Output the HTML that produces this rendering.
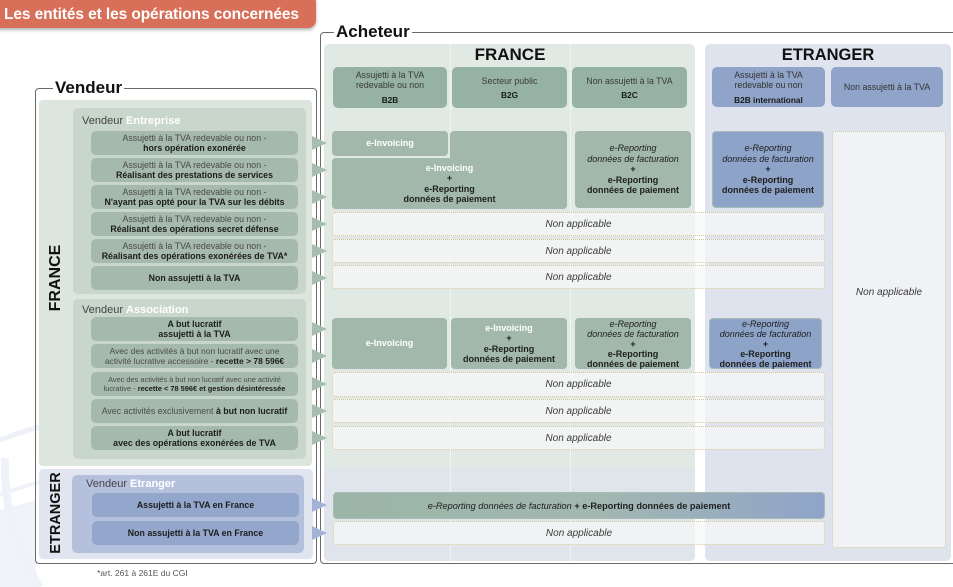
<!DOCTYPE html>
<html><head><meta charset="utf-8">
<style>
*{margin:0;padding:0;box-sizing:border-box}
html,body{width:953px;height:587px;overflow:hidden;background:#fff}
body{position:relative;font-family:"Liberation Sans",sans-serif;color:#333}
.a{position:absolute}
.c{position:absolute;display:flex;flex-direction:column;justify-content:center;align-items:center;text-align:center}
.row{border-radius:5px;background:#a5baac;font-size:8.8px;line-height:10.5px;color:#4a4a4a}
.row b{color:#1c1c1c}
.brow{border-radius:5px;background:#93a6cb;font-size:8.8px;line-height:10px;color:#1c1c1c;font-weight:bold}
.hd{border-radius:5px;background:#95b2a4;font-size:8.8px;line-height:10px;color:#3a3a3a}
.hd b{color:#1a1a1a;font-size:8.3px}
.hb{border-radius:5px;background:#8fa4c8;font-size:8.8px;line-height:10px;color:#333}
.hb b{color:#1a1a1a;font-size:8.3px}
.g{border-radius:4px;background:#a1b8ab;font-size:9px;line-height:10.4px;color:#1e1e1e}
.bl{border-radius:4px;background:#8ea3c8;border:1px solid #a9bcb6;font-size:9px;line-height:10.4px;color:#1e1e1e}
.w{color:#fff;font-weight:bold}
.na{border:1px dotted #d2c696;border-radius:3px;background:rgba(247,248,248,0.72);font-size:10px;font-style:italic;color:#3a3a3a}
.tri{position:absolute;width:0;height:0;border-top:7px solid transparent;border-bottom:7px solid transparent;border-left:15px solid #a7bdaf}
.trib{border-left-color:#a3b3d8}
.lbl{font-size:11px;color:#444}
.lbl b{color:#fff}
.dot{position:absolute;width:0;border-left:1px dotted #fff;top:44px;height:517px}
</style></head><body>

<!-- watermark -->
<svg class="a" style="left:0;top:380px" width="60" height="207">
<path d="M0,60 Q25,50 48,45" stroke="#eef2f8" stroke-width="5" fill="none"/>
<path d="M0,115 Q25,105 50,100" stroke="#eff3f9" stroke-width="4" fill="none"/>
<path d="M0,130 L36,120 L36,207 L0,207 Z" fill="#f0f3f9"/>
<path d="M5,78 Q3,150 40,207" stroke="#eff3f9" stroke-width="8" fill="none"/>
</svg>

<!-- title -->
<div class="a" style="left:-10px;top:-6px;width:326px;height:34px;border-radius:8px;background:#d86f59;box-shadow:0 2px 3px rgba(0,0,0,0.3)"></div>
<div class="a" style="left:4px;top:6px;font-size:15.5px;font-weight:bold;color:#fff;letter-spacing:-0.1px;line-height:18px">Les entités et les opérations concernées</div>

<!-- Acheteur frame -->
<div class="a" style="left:320px;top:32px;width:650px;height:532px;border:1px solid #6a6a6a;border-radius:4px"></div>
<div class="a" style="left:334px;top:22px;padding:0 2px;background:#fff;font-size:17px;font-weight:bold;color:#111;line-height:20px">Acheteur</div>

<!-- Vendeur frame -->
<div class="a" style="left:35px;top:88px;width:282px;height:476px;border:1px solid #6a6a6a;border-radius:4px"></div>
<div class="a" style="left:53px;top:78px;padding:0 2px;background:#fff;font-size:17px;font-weight:bold;color:#111;line-height:20px">Vendeur</div>

<!-- seller panels -->
<div class="a" style="left:39px;top:100px;width:273px;height:366px;background:#dce5de;border-radius:4px"></div>
<div class="a" style="left:39px;top:469px;width:274px;height:90px;background:#e0e5ef;border-radius:4px"></div>
<div class="a" style="left:73px;top:108px;width:233px;height:186px;background:#c8d6cb;border-radius:5px"></div>
<div class="a" style="left:73px;top:299px;width:233px;height:160px;background:#c8d6cb;border-radius:5px"></div>
<div class="a" style="left:72px;top:475px;width:232px;height:78px;background:#b5c1dc;border-radius:5px"></div>

<div class="a" style="left:56px;top:278px;transform:translate(-50%,-50%) rotate(-90deg);font-size:16px;font-weight:bold;color:#111;white-space:nowrap">FRANCE</div>
<div class="a" style="left:56px;top:513px;transform:translate(-50%,-50%) rotate(-90deg);font-size:14.5px;font-weight:bold;color:#111;white-space:nowrap">ETRANGER</div>

<div class="a lbl" style="left:82px;top:115px">Vendeur <b>Entreprise</b></div>
<div class="a lbl" style="left:82px;top:304px">Vendeur <b>Association</b></div>
<div class="a lbl" style="left:86px;top:478px">Vendeur <b>Etranger</b></div>

<!-- entreprise rows -->
<div class="c row" style="left:91px;top:131px;width:207px;height:24px"><span>Assujetti à la TVA redevable ou non -</span><b>hors opération exonérée</b></div>
<div class="c row" style="left:91px;top:158px;width:207px;height:24px"><span>Assujetti à la TVA redevable ou non -</span><b>Réalisant des prestations de services</b></div>
<div class="c row" style="left:91px;top:185px;width:207px;height:24px"><span>Assujetti à la TVA redevable ou non -</span><b>N'ayant pas opté pour la TVA sur les débits</b></div>
<div class="c row" style="left:91px;top:212px;width:207px;height:24px"><span>Assujetti à la TVA redevable ou non -</span><b>Réalisant des opérations secret défense</b></div>
<div class="c row" style="left:91px;top:239px;width:207px;height:24px"><span>Assujetti à la TVA redevable ou non -</span><b>Réalisant des opérations exonérées de TVA*</b></div>
<div class="c row" style="left:91px;top:266px;width:207px;height:24px"><b>Non assujetti à la TVA</b></div>

<!-- association rows -->
<div class="c row" style="left:91px;top:317px;width:207px;height:24px"><b>A but lucratif</b><b>assujetti à la TVA</b></div>
<div class="c row" style="left:91px;top:344px;width:207px;height:24px;font-size:8.5px"><span>Avec des activités à but non lucratif avec une</span><span>activité lucrative accessoire - <b>recette &gt; 78 596€</b></span></div>
<div class="c row" style="left:91px;top:372px;width:207px;height:24px;font-size:7.4px;line-height:9px"><span>Avec des activités à but non lucratif avec une activité</span><span>lucrative - <b>recette &lt; 78 596€ et gestion désintéressée</b></span></div>
<div class="c row" style="left:91px;top:399px;width:207px;height:24px"><span>Avec activités exclusivement <b>à but non lucratif</b></span></div>
<div class="c row" style="left:91px;top:426px;width:207px;height:24px"><b>A but lucratif</b><b>avec des opérations exonérées de TVA</b></div>

<!-- etranger rows -->
<div class="c brow" style="left:92px;top:493px;width:207px;height:24px">Assujetti à la TVA en France</div>
<div class="c brow" style="left:92px;top:521px;width:207px;height:24px">Non assujetti à la TVA en France</div>

<!-- buyer panels -->
<div class="a" style="left:324px;top:44px;width:371px;height:517px;background:#e0e9e3;border-radius:5px"></div>
<div class="a" style="left:324px;top:468px;width:371px;height:93px;background:#dfe5ea;border-radius:0 0 5px 5px"></div>
<div class="a" style="left:705px;top:44px;width:246px;height:517px;background:#dee3ee;border-radius:5px"></div>
<div class="dot" style="left:450px"></div>
<div class="dot" style="left:570px"></div>

<div class="a" style="left:510px;top:45px;transform:translateX(-50%);font-size:17px;font-weight:bold;color:#111;line-height:20px">FRANCE</div>
<div class="a" style="left:828px;top:45px;transform:translateX(-50%);font-size:16.5px;font-weight:bold;color:#111;line-height:20px">ETRANGER</div>

<div class="c hd" style="left:333px;top:67px;width:114px;height:41px"><span>Assujetti à la TVA</span><span>redevable ou non</span><b style="margin-top:5px">B2B</b></div>
<div class="c hd" style="left:452px;top:67px;width:115px;height:41px"><span>Secteur public</span><b style="margin-top:4px">B2G</b></div>
<div class="c hd" style="left:572px;top:67px;width:115px;height:41px"><span>Non assujetti à la TVA</span><b style="margin-top:4px">B2C</b></div>
<div class="c hb" style="left:712px;top:67px;width:113px;height:40px"><span>Assujetti à la TVA</span><span>redevable ou non</span><b style="margin-top:5px">B2B international</b></div>
<div class="c hb" style="left:831px;top:67px;width:112px;height:40px"><span>Non assujetti à la TVA</span></div>

<!-- entreprise cells -->
<div class="c g" style="left:332px;top:131px;width:116px;height:25px"><span class="w">e-Invoicing</span></div>
<div class="a g" style="left:450px;top:131px;width:117px;height:40px"></div>
<div class="c g" style="left:332px;top:158px;width:235px;height:51px;border-top-right-radius:0"><span class="w">e-Invoicing</span><b>+</b><b>e-Reporting</b><b>données de paiement</b></div>
<div class="c g" style="left:575px;top:131px;width:116px;height:77px"><i>e-Reporting</i><i>données de facturation</i><b>+</b><b>e-Reporting</b><b>données de paiement</b></div>
<div class="c bl" style="left:712px;top:131px;width:112px;height:77px"><i>e-Reporting</i><i>données de facturation</i><b>+</b><b>e-Reporting</b><b>données de paiement</b></div>

<div class="a na" style="left:832px;top:131px;width:114px;height:417px"></div>
<div class="a" style="left:889px;top:287px;transform:translateX(-50%);font-size:10px;font-style:italic;color:#3a3a3a;white-space:nowrap">Non applicable</div>

<div class="c na" style="left:332px;top:212px;width:493px;height:24px">Non applicable</div>
<div class="c na" style="left:332px;top:239px;width:493px;height:24px">Non applicable</div>
<div class="c na" style="left:332px;top:265px;width:493px;height:24px">Non applicable</div>

<!-- association cells -->
<div class="c g" style="left:332px;top:318px;width:115px;height:51px"><span class="w">e-Invoicing</span></div>
<div class="c g" style="left:451px;top:318px;width:116px;height:51px"><span class="w">e-Invoicing</span><b>+</b><b>e-Reporting</b><b>données de paiement</b></div>
<div class="c g" style="left:575px;top:318px;width:116px;height:51px;line-height:10px"><i>e-Reporting</i><i>données de facturation</i><b>+</b><b>e-Reporting</b><b>données de paiement</b></div>
<div class="c bl" style="left:709px;top:318px;width:113px;height:51px;line-height:10px"><i>e-Reporting</i><i>données de facturation</i><b>+</b><b>e-Reporting</b><b>données de paiement</b></div>

<div class="c na" style="left:332px;top:372px;width:493px;height:25px">Non applicable</div>
<div class="c na" style="left:332px;top:399px;width:493px;height:24px">Non applicable</div>
<div class="c na" style="left:332px;top:426px;width:493px;height:24px">Non applicable</div>

<!-- etranger cells -->
<div class="c" style="left:333px;top:492px;width:492px;height:27px;border-radius:4px;background:linear-gradient(to right,#9bb5a7 0%,#a2b7b0 55%,#8fa4c9 100%);font-size:9.2px;color:#1e1e1e;border:1px solid #a9bcb4"><span><i>e-Reporting données de facturation</i> <b>+ e-Reporting données de paiement</b></span></div>
<div class="c na" style="left:333px;top:521px;width:492px;height:24px">Non applicable</div>

<!-- arrows -->
<div class="tri" style="left:312px;top:136px"></div>
<div class="tri" style="left:312px;top:163px"></div>
<div class="tri" style="left:312px;top:190px"></div>
<div class="tri" style="left:312px;top:217px"></div>
<div class="tri" style="left:312px;top:244px"></div>
<div class="tri" style="left:312px;top:271px"></div>
<div class="tri" style="left:312px;top:322px"></div>
<div class="tri" style="left:312px;top:349px"></div>
<div class="tri" style="left:312px;top:377px"></div>
<div class="tri" style="left:312px;top:404px"></div>
<div class="tri" style="left:312px;top:431px"></div>
<div class="tri trib" style="left:312px;top:498px"></div>
<div class="tri trib" style="left:312px;top:526px"></div>

<div class="a" style="left:97px;top:568px;font-size:8.5px;color:#555">*art. 261 à 261E du CGI</div>

</body></html>
